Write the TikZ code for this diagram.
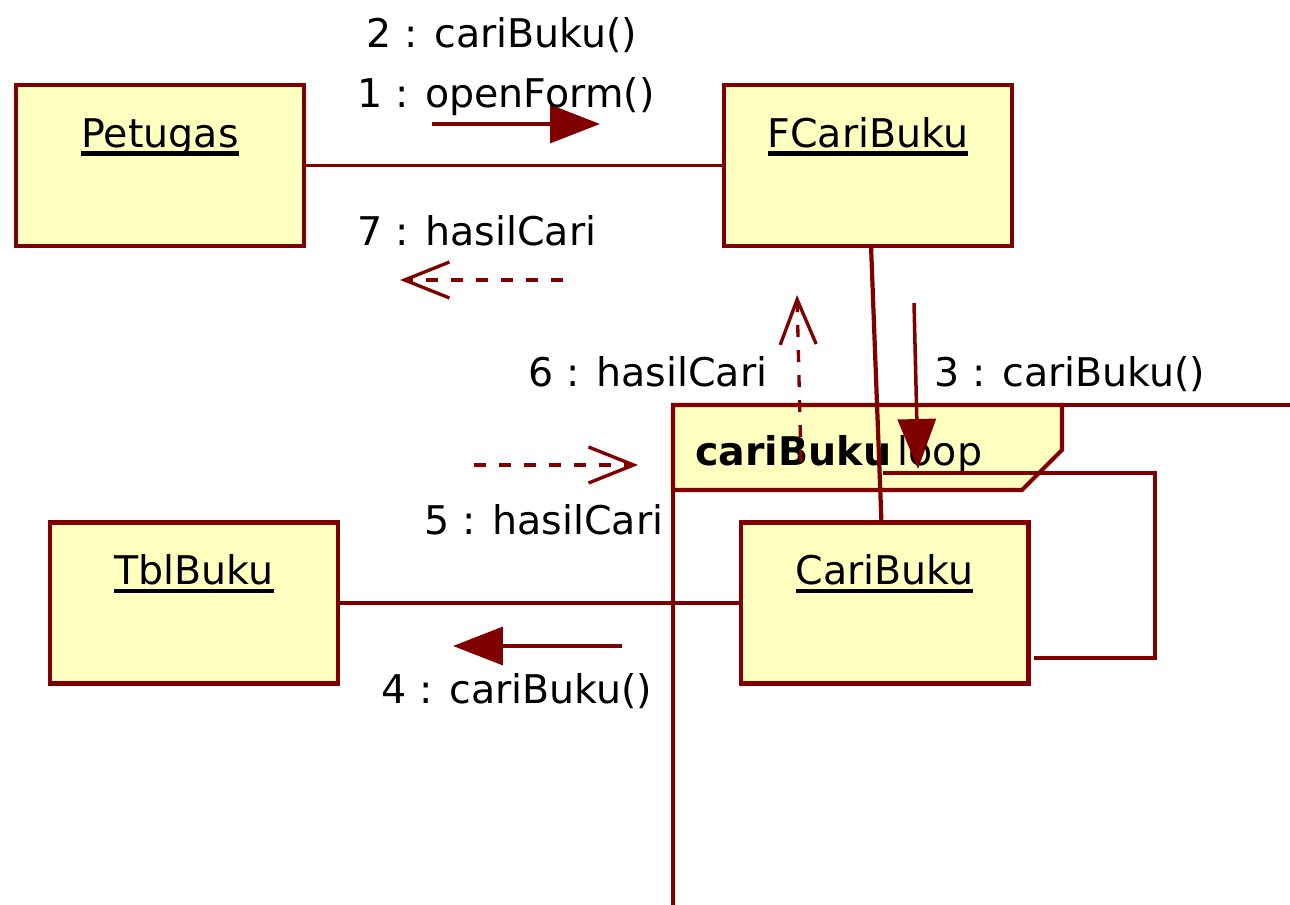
\documentclass[tikz,border=0pt]{standalone}
\usepackage{fontspec}
\setmainfont{DejaVu Sans}
\usetikzlibrary{arrows.meta,positioning}

\definecolor{umlred}{RGB}{128,0,0}
\definecolor{umlfill}{RGB}{255,255,192}
% object names are underlined with a heavy rule
\newcommand{\objname}[1]{\setbox0\hbox{#1}\rlap{\copy0}\rule[-5pt]{\wd0}{2.6pt}}

\begin{document}
\begin{tikzpicture}[x=0.02cm, y=-0.02cm,
  obj/.style={draw=umlred, fill=umlfill, line width=2.3pt, inner sep=0pt, minimum width=5.76cm, text height=1.24cm, text depth=1.98cm, font=\fontsize{22.5}{27}\selectfont},
  link/.style={draw=umlred, line width=2pt},
  call/.style={umlred, line width=2pt, -{Triangle[length=1cm, width=0.76cm]}},
  reply/.style={umlred, line width=1.9pt, dash pattern=on 0.24cm off 0.26cm, -{Straight Barb[length=0.9cm, width=0.72cm]}},
  msg/.style={anchor=base, inner sep=0pt, font=\fontsize{22.5}{27}\selectfont}
]
\useasboundingbox (0,0) rectangle (1290,905);

% loop frame
\draw[link, line width=2.3pt] (673,905) -- (673,405) -- (1290,405);
\filldraw[link, line width=2.3pt, fill=umlfill] (673,405) -- (1062,405) -- (1062,450) -- (1022,490) -- (673,490) -- cycle;
\node[msg, anchor=base west] (loopname) at (695,465) {\textbf{cariBuku}\,loop};

% objects
\node[obj] (petugas) at (160,165.5) {\objname{Petugas}};
\node[obj] (fcari) at (868,165.5) {\objname{FCariBuku}};
\node[obj] (tblbuku) at (194,603) {\objname{TblBuku}};
\node[obj] (caribuku) at (884.5,603) {\objname{CariBuku}};

% links
\draw[link] (petugas) -- (fcari);
\draw[link, line width=2.4pt] (fcari) -- (caribuku);
\draw[link] (tblbuku) -- (caribuku);

% self link on CariBuku
\coordinate (selfA) at (883,473);
\coordinate (selfB) at (1034,658);
\draw[link] (selfA) -- (1155,473) -- (1155,658) -- (selfB);

% messages
\coordinate (m1a) at (432,124);
\coordinate (m1b) at (600,124);
\coordinate (m7a) at (563,280);
\coordinate (m7b) at (400,280);
\coordinate (m6a) at (801,462);
\coordinate (m6b) at (797,295);
\coordinate (m3a) at (914,303);
\coordinate (m3b) at (918,469);
\coordinate (m5a) at (474,465);
\coordinate (m5b) at (638,465);
\coordinate (m4a) at (622,646);
\coordinate (m4b) at (453,646);

\draw[call] (m1a) -- (m1b);
\draw[reply] (m7a) -- (m7b);
\draw[reply] (m6a) -- (m6b);
\draw[call] (m3a) -- (m3b);
\draw[reply] (m5a) -- (m5b);
\draw[call] (m4a) -- (m4b);

\node[msg] (l2) at (502,48) {2 : cariBuku()};
\node[msg] (l1) at (506,108) {1 : openForm()};
\node[msg] (l7) at (477,246) {7 : hasilCari};
\node[msg] (l6) at (648,386) {6 : hasilCari};
\node[msg] (l3) at (1070,386) {3 : cariBuku()};
\node[msg] (l5) at (544,534) {5 : hasilCari};
\node[msg] (l4) at (517,703) {4 : cariBuku()};
\end{tikzpicture}
\end{document}
